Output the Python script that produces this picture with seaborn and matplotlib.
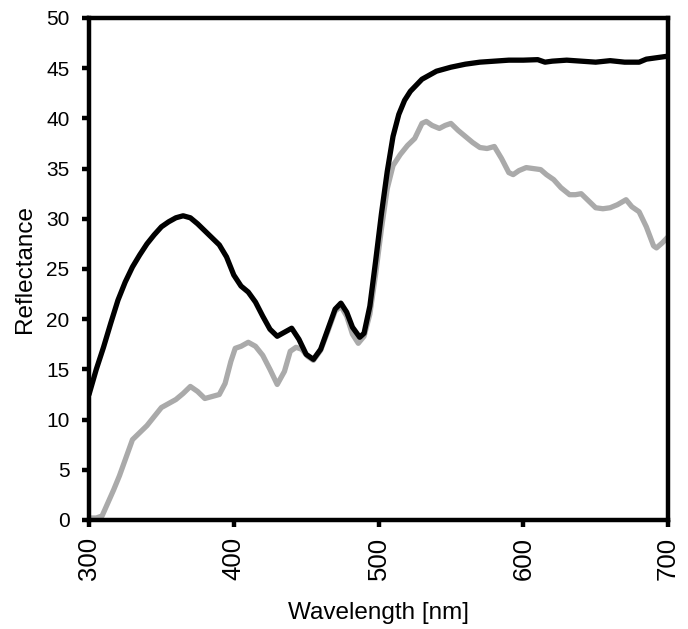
import numpy as np
import pandas as pd
import matplotlib
matplotlib.use("Agg")
import matplotlib.pyplot as plt
import seaborn as sns

wl_dark = [300, 305, 310, 315, 320, 325, 330, 335, 340, 345, 350, 355, 360, 365, 370,
           375, 380, 385, 390, 395, 400, 405, 410, 415, 420, 425, 430, 435, 440, 445,
           450, 455, 460, 465, 470, 474, 478, 482, 487, 490, 494, 498, 502, 506, 510,
           514, 518, 522, 530, 540, 550, 560, 570, 580, 590, 600, 610, 615, 620, 630,
           640, 650, 660, 670, 680, 685, 690, 700]
refl_dark = [12.5, 15.0, 17.2, 19.6, 21.9, 23.7, 25.2, 26.4, 27.5, 28.4, 29.2, 29.7, 30.1, 30.3, 30.1,
             29.5, 28.8, 28.1, 27.4, 26.2, 24.4, 23.3, 22.7, 21.7, 20.3, 19.0, 18.3, 18.7, 19.1, 18.0,
             16.5, 16.0, 17.0, 19.0, 21.0, 21.6, 20.7, 19.2, 18.2, 18.6, 21.3, 25.8, 30.5, 34.7, 38.2,
             40.4, 41.8, 42.7, 43.9, 44.7, 45.1, 45.4, 45.6, 45.7, 45.8, 45.8, 45.85, 45.6, 45.7, 45.8,
             45.7, 45.6, 45.75, 45.6, 45.6, 45.9, 46.0, 46.2]

wl_light = [300, 305, 309, 313, 317, 321, 325, 330, 335, 340, 345, 350, 355, 360, 365,
            370, 375, 380, 385, 390, 394, 398, 401, 405, 410, 415, 420, 425, 430, 435,
            439, 443, 447, 451, 455, 460, 465, 470, 474, 478, 482, 486, 490, 494, 498,
            502, 506, 510, 515, 520, 525, 530, 533, 537, 542, 546, 550, 555, 560, 565,
            570, 575, 580, 585, 590, 593, 597, 602, 607, 612, 616, 621, 626, 632, 636,
            640, 645, 650, 655, 660, 665, 671, 675, 680, 685, 690, 692, 696, 700]
refl_light = [0.2, 0.2, 0.4, 1.7, 3.0, 4.4, 6.0, 8.0, 8.7, 9.4, 10.3, 11.2, 11.6, 12.0, 12.6,
              13.3, 12.8, 12.1, 12.3, 12.5, 13.6, 15.8, 17.1, 17.3, 17.7, 17.3, 16.4, 15.0, 13.5, 14.8,
              16.8, 17.2, 17.0, 16.3, 15.9, 16.9, 18.8, 20.8, 21.3, 20.3, 18.5, 17.6, 18.3, 20.5, 24.5,
              29.0, 33.0, 35.3, 36.4, 37.3, 38.0, 39.5, 39.7, 39.3, 39.0, 39.3, 39.5, 38.8, 38.2, 37.6,
              37.1, 37.0, 37.2, 36.0, 34.6, 34.4, 34.8, 35.1, 35.0, 34.9, 34.4, 33.9, 33.1, 32.4, 32.4,
              32.5, 31.8, 31.1, 31.0, 31.1, 31.4, 31.9, 31.2, 30.7, 29.2, 27.3, 27.1, 27.6, 28.2]

x_ticks = [300, 400, 500, 600, 700]
y_ticks = [0, 5, 10, 15, 20, 25, 30, 35, 40, 45, 50]

sns.set_style("ticks")
plt.rcParams['font.family'] = ['Liberation Sans', 'DejaVu Sans']
plt.rcParams['text.color'] = 'black'
plt.rcParams['axes.labelcolor'] = 'black'
plt.rcParams['xtick.color'] = 'black'
plt.rcParams['ytick.color'] = 'black'

fig = plt.figure(figsize=(6.88, 6.29), dpi=100)
ax = fig.add_axes([0.1294, 0.1733, 0.8416, 0.7981])

df_light = pd.DataFrame({"wl": wl_light, "r": refl_light})
df_dark = pd.DataFrame({"wl": wl_dark, "r": refl_dark})
sns.lineplot(data=df_light, x="wl", y="r", ax=ax, color="#aaaaaa", linewidth=3.8, sort=False,
             solid_joinstyle="round", solid_capstyle="round")
sns.lineplot(data=df_dark, x="wl", y="r", ax=ax, color="black", linewidth=3.8, sort=False,
             solid_joinstyle="round", solid_capstyle="round")

ax.set_xlim(300, 700)
ax.set_ylim(0, 50)
ax.set_xticks(x_ticks)
ax.set_yticks(y_ticks)
ax.set_xticklabels([str(v) for v in x_ticks], rotation=90, fontsize=18.5)
ax.set_yticklabels([str(v) for v in y_ticks], fontsize=15)
ax.set_xlabel("Wavelength [nm]", fontsize=17.5, labelpad=16)
ax.set_ylabel("Reflectance", fontsize=17.5, labelpad=7)
for s in ax.spines.values():
    s.set_visible(True)
    s.set_linewidth(3.2)
    s.set_color("black")
ax.tick_params(axis="both", direction="out", length=5, width=3.2, color="black")
ax.tick_params(axis="y", pad=9)
ax.tick_params(axis="x", pad=7)
ax.tick_params(top=False, right=False)

fig.savefig("out.png", dpi=100)
